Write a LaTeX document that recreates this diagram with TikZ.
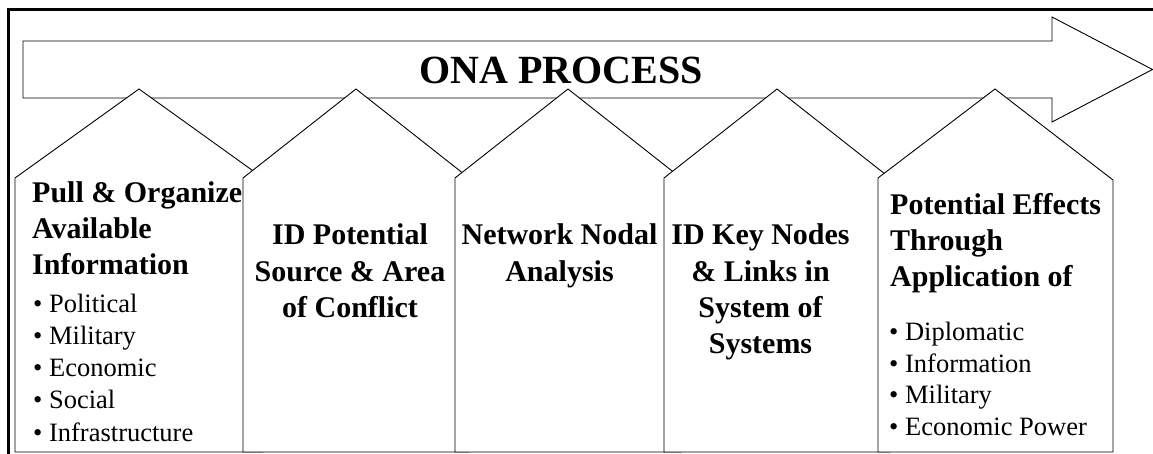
\documentclass[tikz,border=0pt]{standalone}
\usepackage{fontspec}
\setmainfont{Liberation Serif}
\begin{document}
\begin{tikzpicture}[x=1pt,y=-1pt, line join=miter,
  shapeline/.style={draw=black, fill=white, line width=0.9pt},
  head/.style={font=\bfseries\fontsize{30}{36}\selectfont, inner sep=0pt},
  item/.style={font=\fontsize{26.5}{32}\selectfont, inner sep=0pt, anchor=base west}]
\useasboundingbox (0,0) rectangle (1153,454);
% outer frame
\draw[line width=3pt] (8,9.5) rectangle (1200,520);
% process arrow
\draw[shapeline] (23,41) -- (1052,41) -- (1052,17) -- (1152.5,69.5) -- (1052,122) -- (1052,98) -- (23,98) -- cycle;
\node[font=\bfseries\fontsize{40}{48}\selectfont, inner sep=0pt, anchor=base] (title) at (561,84) {ONA PROCESS};
% house 1
\draw[shapeline] (15,452) -- (15,178) -- (139,89) -- (263,178) -- (263,452) -- cycle;
\node[head, anchor=base west] (h1a) at (32,203) {Pull \& Organize};
\node[head, anchor=base west] (h1b) at (32,239) {Available};
\node[head, anchor=base west] (h1c) at (32,275) {Information};
\node[item] (i1a) at (33,312) {\textbullet\ Political};
\node[item] (i1b) at (33,344) {\textbullet\ Military};
\node[item] (i1c) at (33,376) {\textbullet\ Economic};
\node[item] (i1d) at (33,408) {\textbullet\ Social};
\node[item] (i1e) at (33,441) {\textbullet\ Infrastructure};
% house 2
\draw[shapeline] (243,452) -- (243,178) -- (356,89) -- (469,178) -- (469,452) -- cycle;
\node[head, anchor=base] (h2a) at (350,245) {ID Potential};
\node[head, anchor=base] (h2b) at (350,281) {Source \& Area};
\node[head, anchor=base] (h2c) at (350,317) {of Conflict};
% house 3
\draw[shapeline] (455,452) -- (455,178) -- (568,89) -- (681,178) -- (681,452) -- cycle;
\node[head, anchor=base] (h3a) at (559.5,245) {Network Nodal};
\node[head, anchor=base] (h3b) at (559.5,281) {Analysis};
% house 4
\draw[shapeline] (664,452) -- (664,178) -- (777,89) -- (890,178) -- (890,452) -- cycle;
\node[head, anchor=base] (h4a) at (760.5,245) {ID Key Nodes};
\node[head, anchor=base] (h4b) at (760.5,281) {\& Links in};
\node[head, anchor=base] (h4c) at (760.5,317) {System of};
\node[head, anchor=base] (h4d) at (760.5,353) {Systems};
% house 5
\draw[shapeline] (878,452) -- (878,178) -- (995,89) -- (1113,180) -- (1113,452) -- cycle;
\node[head, anchor=base west] (h5a) at (890,215) {Potential Effects};
\node[head, anchor=base west] (h5b) at (890,251) {Through};
\node[head, anchor=base west] (h5c) at (890,287) {Application of};
\node[item] (i5a) at (889,340) {\textbullet\ Diplomatic};
\node[item] (i5b) at (889,372) {\textbullet\ Information};
\node[item] (i5c) at (889,403) {\textbullet\ Military};
\node[item] (i5d) at (889,435) {\textbullet\ Economic Power};
\end{tikzpicture}
\end{document}
